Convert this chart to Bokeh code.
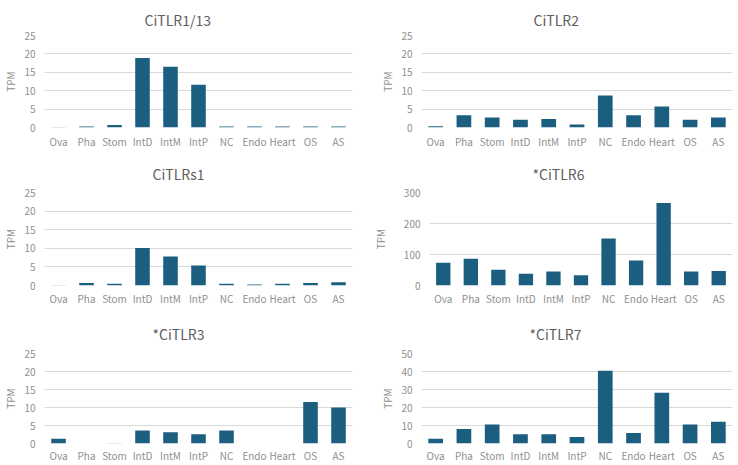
from bokeh.plotting import figure
from bokeh.layouts import column, row
from bokeh.models import FixedTicker, Range1d, Title
from bokeh.embed import file_html
from bokeh.resources import INLINE

tissues = ["Ova", "Pha", "Stom", "IntD", "IntM", "IntP", "NC", "Endo", "Heart", "OS", "AS"]

citlr1_13 = [0.05, 0.25, 0.65, 18.9, 16.5, 11.6, 0.3, 0.3, 0.3, 0.3, 0.3]
citlr2 = [0.35, 3.3, 2.7, 2.1, 2.3, 0.8, 8.7, 3.3, 5.7, 2.1, 2.7]
citlrs1 = [0.05, 0.7, 0.5, 10.1, 7.8, 5.4, 0.5, 0.3, 0.5, 0.7, 0.9]
citlr6 = [73, 86, 51, 38, 45, 33, 152, 81, 266, 45, 47]
citlr3 = [1.35, 0.0, 0.05, 3.6, 3.1, 2.6, 3.6, 0.0, 0.0, 11.5, 10.0]
citlr7 = [2.7, 8.1, 10.6, 5.2, 5.2, 3.6, 40.4, 5.8, 28.2, 10.6, 12.1]

titles = ["CiTLR1/13", "CiTLR2", "CiTLRs1", "*CiTLR6", "*CiTLR3", "*CiTLR7"]
series = [citlr1_13, citlr2, citlrs1, citlr6, citlr3, citlr7]
ymax = [25, 25, 25, 300, 25, 50]
ystep = [5, 5, 5, 100, 5, 10]

BAR = "#1b5e7f"
GRID = "#d9d9d9"
TICK = "#8f8f8f"
TITLE = "#606060"
FONT = "Noto Sans CJK JP"

# layout geometry per panel:
# (width, height, left, right, top, bottom, title_offset, ylabel_standoff, xlabel_standoff, title_standoff)
geom = [
    (369, 152, 38, 17, 35, 25, 100, 3, 6, 12),
    (369, 152, 52, 6, 35, 25, 112, 3, 6, 12),
    (369, 158, 38, 17, 40, 25, 108, 3, 5, 17),
    (369, 158, 57, 6, 40, 25, 103, 13, 5, 17),
    (369, 155, 38, 17, 43, 19, 108, 3, 4, 20),
    (369, 155, 52, 6, 43, 19, 108, 3, 4, 20),
]

positions = list(range(len(tissues)))


def style_axis(ax):
    ax.axis_line_color = None
    ax.major_tick_line_color = None
    ax.minor_tick_line_color = None
    ax.major_tick_out = 0
    ax.major_tick_in = 0
    ax.minor_tick_out = 0
    ax.minor_tick_in = 0
    ax.major_label_text_font = FONT
    ax.major_label_text_font_size = "10px"
    ax.major_label_text_color = TICK


def make(i):
    w, h, bl, br, bt, bb, toff, lstand, xstand, tstand = geom[i]
    p = figure(width=w, height=h, x_range=Range1d(-0.5, len(tissues) - 0.5),
               y_range=Range1d(0, ymax[i]), output_backend="svg",
               toolbar_location=None, min_border_left=bl, min_border_right=br,
               min_border_top=bt, min_border_bottom=bb)
    xax = p.below[0]
    yax = p.left[0]
    p.vbar(x=positions, top=series[i], width=0.52, fill_color=BAR, line_color=None)
    p.outline_line_color = None
    p.xgrid.grid_line_color = None
    p.ygrid.grid_line_color = GRID
    p.ygrid.grid_line_width = 1

    style_axis(xax)
    xax.ticker = FixedTicker(ticks=positions)
    xax.major_label_overrides = {k: t for k, t in zip(positions, tissues)}
    xax.major_label_standoff = xstand

    style_axis(yax)
    yax.ticker = FixedTicker(ticks=list(range(0, ymax[i] + 1, ystep[i])))
    yax.axis_label = "TPM"
    yax.axis_label_text_font = FONT
    yax.axis_label_text_font_size = "10px"
    yax.axis_label_text_font_style = "normal"
    yax.axis_label_text_color = TICK
    yax.axis_label_standoff = lstand
    yax.major_label_standoff = 9

    p.add_layout(Title(text=titles[i], align="left", offset=toff, standoff=tstand,
                       text_font=FONT, text_font_size="14px", text_font_style="normal",
                       text_color=TITLE), "above")
    return p


figs = [make(i) for i in range(6)]
layout = column(row(figs[0], figs[1]), row(figs[2], figs[3]), row(figs[4], figs[5]))

open("out.html", "w").write(file_html(layout, INLINE))
